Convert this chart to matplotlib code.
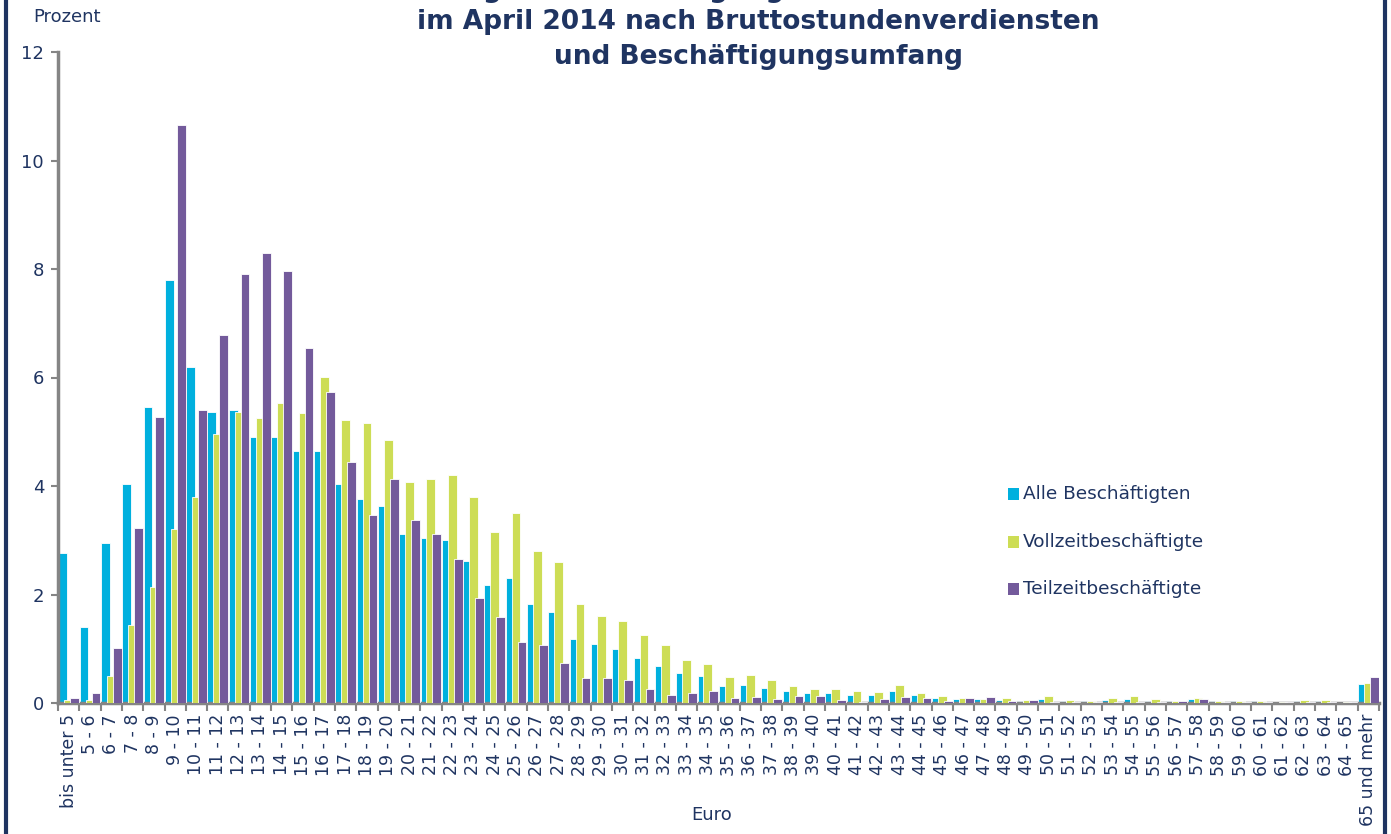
import numpy as np
import matplotlib
matplotlib.use("Agg")
import matplotlib.pyplot as plt
from matplotlib.patches import Rectangle
from matplotlib.lines import Line2D

categories = ["bis unter 5"] + [f"{i} - {i+1}" for i in range(5, 65)] + ["65 und mehr"]

alle = [2.77, 1.41, 2.95, 4.03, 5.45, 7.80, 6.19, 5.36, 5.41, 4.90,
        4.90, 4.65, 4.65, 4.03, 3.76, 3.64, 3.12, 3.04, 3.00, 2.61,
        2.17, 2.30, 1.83, 1.67, 1.18, 1.08, 0.99, 0.83, 0.68, 0.55,
        0.49, 0.32, 0.34, 0.28, 0.23, 0.18, 0.19, 0.14, 0.14, 0.23,
        0.14, 0.09, 0.08, 0.07, 0.06, 0.04, 0.07, 0.04, 0.03, 0.06,
        0.07, 0.04, 0.03, 0.07, 0.03, 0.03, 0.03, 0.02, 0.04, 0.04,
        0.02, 0.35]
vollzeit = [0.05, 0.06, 0.50, 1.43, 2.13, 3.21, 3.80, 4.95, 5.36, 5.25,
            5.53, 5.34, 6.01, 5.22, 5.17, 4.84, 4.07, 4.12, 4.21, 3.79,
            3.15, 3.51, 2.80, 2.59, 1.83, 1.60, 1.52, 1.26, 1.06, 0.80,
            0.71, 0.48, 0.52, 0.42, 0.32, 0.25, 0.26, 0.22, 0.20, 0.33,
            0.19, 0.13, 0.10, 0.08, 0.09, 0.06, 0.12, 0.06, 0.04, 0.10,
            0.12, 0.07, 0.03, 0.09, 0.04, 0.04, 0.04, 0.02, 0.05, 0.05,
            0.02, 0.37]
teilzeit = [0.10, 0.19, 1.02, 3.23, 5.27, 10.66, 5.41, 6.78, 7.90, 8.30,
            7.96, 6.55, 5.73, 4.45, 3.46, 4.12, 3.37, 3.11, 2.65, 1.94,
            1.58, 1.12, 1.06, 0.73, 0.46, 0.47, 0.42, 0.25, 0.15, 0.19,
            0.22, 0.10, 0.11, 0.07, 0.13, 0.12, 0.05, 0.02, 0.07, 0.11,
            0.10, 0.04, 0.09, 0.11, 0.03, 0.06, 0.02, 0.01, 0.01, 0.01,
            0.01, 0.01, 0.03, 0.08, 0.01, 0.01, 0.01, 0.01, 0.01, 0.01,
            0.02, 0.48]

series_names = ["Alle Beschäftigten", "Vollzeitbeschäftigte", "Teilzeitbeschäftigte"]
colors = ["#00B0DE", "#CDDD55", "#735A9B"]
navy = "#1F3461"
gray = "#858585"

fig = plt.figure(figsize=(13.91, 8.34), dpi=100)
W, H = 1391, 834
ax = fig.add_axes([58 / W, 1 - 703 / H, (1379 - 58) / W, (703 - 52) / H])

x = np.arange(len(categories))
width = 0.41
step = 0.28
for k, (vals, col) in enumerate(zip([alle, vollzeit, teilzeit], colors)):
    ax.bar(x + (k - 1) * step, vals, width=width, color=col,
           edgecolor="white", linewidth=0.6, zorder=2 + k)

ax.set_xlim(-0.5, len(categories) - 0.5)
ax.set_ylim(0, 12)
ax.set_yticks(np.arange(0, 13, 2))
ax.set_yticklabels([str(v) for v in range(0, 13, 2)])

ax.set_xticks(np.arange(-0.5, len(categories), 1))
ax.set_xticklabels([])
ax.set_xticks(x, minor=True)
ax.set_xticklabels(categories, minor=True, rotation=90, ha="center", va="top")
ax.tick_params(axis="x", which="major", length=6, width=1.5, color=gray, direction="out")
ax.tick_params(axis="x", which="minor", length=0, pad=8, labelsize=12.5, labelcolor=navy)
ax.tick_params(axis="y", length=5, width=1.5, color=gray, direction="out",
               labelsize=13, labelcolor=navy, pad=5)

for s in ["top", "right"]:
    ax.spines[s].set_visible(False)
for s in ["left", "bottom"]:
    ax.spines[s].set_color(gray)
    ax.spines[s].set_linewidth(2.5)

fig.text(33 / W, 1 - 17 / H, "Prozent", fontsize=13, color=navy, va="center", ha="left")
fig.text(712 / W, 1 - 815 / H, "Euro", fontsize=13, color=navy, va="center", ha="center")

title_x = 758 / W
fig.text(781 / W, 1 - (-10) / H, "Verteilung der Beschäftigungsverhältnisse in Deutschland",
         fontsize=19, fontweight="bold", color=navy, ha="center", va="center")
fig.text(title_x, 1 - 22 / H, "im April 2014 nach Bruttostundenverdiensten",
         fontsize=19, fontweight="bold", color=navy, ha="center", va="center")
fig.text(title_x, 1 - 57 / H, "und Beschäftigungsumfang",
         fontsize=19, fontweight="bold", color=navy, ha="center", va="center")

# legend
leg_y = [494, 542, 589]
for name, col, yy in zip(series_names, colors, leg_y):
    fig.patches.append(Rectangle((1008 / W, 1 - (yy + 6) / H), 11 / W, 12 / H,
                                 transform=fig.transFigure, facecolor=col,
                                 edgecolor="none", figure=fig))
    fig.text(1023 / W, 1 - yy / H, name, fontsize=13.3, color=navy, va="center", ha="left")

# frame lines
for xp in [6, 1385]:
    fig.add_artist(Line2D([xp / W, xp / W], [0, 1], transform=fig.transFigure,
                          color=navy, linewidth=3))

fig.savefig("out.png", dpi=100)
